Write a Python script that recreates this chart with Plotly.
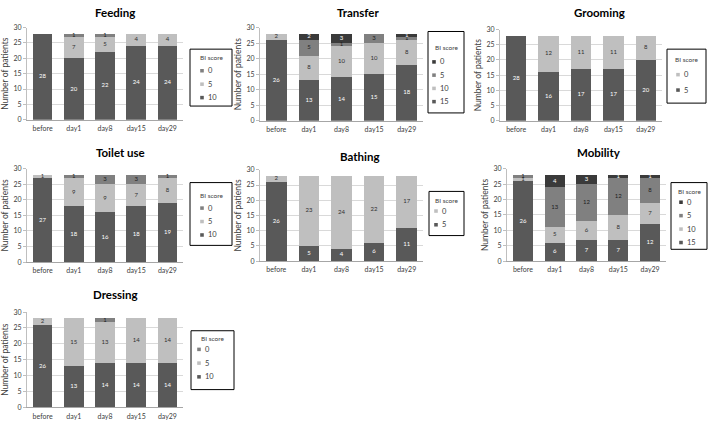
import plotly.graph_objects as go
import numpy as np

days = ["before", "day1", "day8", "day15", "day29"]

feeding_10 = [28, 20, 22, 24, 24]
feeding_5 = [0, 7, 5, 4, 4]
feeding_0 = [0, 1, 1, 0, 0]

transfer_15 = [26, 13, 14, 15, 18]
transfer_10 = [2, 8, 10, 10, 8]
transfer_5 = [0, 5, 1, 3, 1]
transfer_0 = [0, 2, 3, 0, 1]

grooming_5 = [28, 16, 17, 17, 20]
grooming_0 = [0, 12, 11, 11, 8]

toilet_10 = [27, 18, 16, 18, 19]
toilet_5 = [1, 9, 9, 7, 8]
toilet_0 = [0, 1, 3, 3, 1]

bathing_5 = [26, 5, 4, 6, 11]
bathing_0 = [2, 23, 24, 22, 17]

mobility_15 = [26, 6, 7, 7, 12]
mobility_10 = [1, 5, 6, 8, 7]
mobility_5 = [1, 13, 12, 12, 8]
mobility_0 = [0, 4, 3, 1, 1]

dressing_10 = [26, 13, 14, 14, 14]
dressing_5 = [2, 15, 13, 14, 14]
dressing_0 = [0, 0, 1, 0, 0]

DARK = "#595959"
LIGHT = "#bfbfbf"
MID = "#808080"
DARKEST = "#3a3a3a"
TXT_ON = {DARK: "white", LIGHT: "#303030", MID: "#202020", DARKEST: "white"}

W, H = 708, 424

def px_x(a, b):
    return [a / W, b / W]

def px_y(top, bottom):
    return [1 - bottom / H, 1 - top / H]

def fx(p):
    return p / W

def fy(p):
    return 1 - p / H

# legend geometry: (box x0, x1, y0, y1, title y, first item y, item spacing, square offset from x0)
panels = [
    ("Feeding", [(feeding_10, "10", DARK), (feeding_5, "5", LIGHT), (feeding_0, "0", MID)],
     (27, 183), (23, 117), (115, 8), (190, 232, 45, 103, 53, 67, 13.7, 12)),
    ("Transfer", [(transfer_15, "15", DARK), (transfer_10, "10", LIGHT), (transfer_5, "5", MID), (transfer_0, "0", DARKEST)],
     (260, 423), (23, 118), (358, 8), (428, 464, 27, 110, 43, 58, 13.5, 6)),
    ("Grooming", [(grooming_5, "5", DARK), (grooming_0, "0", LIGHT)],
     (500, 662), (25, 118), (599, 8), (667, 706, 45, 100, 56, 71, 15.7, 11)),
    ("Toilet use", [(toilet_10, "10", DARK), (toilet_5, "5", LIGHT), (toilet_0, "0", MID)],
     (27, 183), (167, 262), (120, 150), (190, 232, 181, 245, 194, 207, 13.7, 12)),
    ("Bathing", [(bathing_5, "5", DARK), (bathing_0, "0", LIGHT)],
     (260, 423), (168, 261), (359, 154), (429, 464, 190, 235, 199, 210, 14, 7)),
    ("Mobility", [(mobility_15, "15", DARK), (mobility_10, "10", LIGHT), (mobility_5, "5", MID), (mobility_0, "0", DARKEST)],
     (507, 666), (167, 261), (599, 150), (671, 707, 181, 249, 190, 201, 13.7, 10)),
    ("Dressing", [(dressing_10, "10", DARK), (dressing_5, "5", LIGHT), (dressing_0, "0", MID)],
     (27, 183), (313, 410), (116, 295), (191, 234, 332, 392, 340, 351, 14, 8)),
]

FONT = "Lato"
fig = go.Figure()
layout = dict(
    width=W, height=H, margin=dict(l=0, r=0, t=0, b=0),
    paper_bgcolor="white", plot_bgcolor="white",
    barmode="stack", bargap=0.37, showlegend=False,
    font=dict(family=FONT, color="#404040"),
    annotations=[], shapes=[],
)

for i, (title, series, xr, yr, tpos, lg) in enumerate(panels):
    n = i + 1
    xa = "x" if n == 1 else f"x{n}"
    ya = "y" if n == 1 else f"y{n}"
    base = np.zeros(len(days))
    for vals, name, col in series:
        v = np.array(vals, dtype=float)
        fig.add_trace(go.Bar(
            x=days, y=vals, name=name, marker=dict(color=col, line=dict(width=0)),
            xaxis=xa, yaxis=ya, hoverinfo="skip",
        ))
        mask = v > 0
        fig.add_trace(go.Scatter(
            x=[d for d, m in zip(days, mask) if m],
            y=list((base + v / 2)[mask]),
            text=[str(int(t)) for t in v[mask]],
            mode="text", textfont=dict(size=6, color=TXT_ON[col], family=FONT),
            xaxis=xa, yaxis=ya, hoverinfo="skip",
        ))
        base = base + v
    layout["xaxis" if n == 1 else f"xaxis{n}"] = dict(
        domain=px_x(*xr), anchor=ya, type="category",
        showline=True, linecolor="#a6a6a6", linewidth=1,
        ticks="", tickfont=dict(size=7, color="#404040"), showgrid=False,
        ticklabelstandoff=2, fixedrange=True,
    )
    layout["yaxis" if n == 1 else f"yaxis{n}"] = dict(
        domain=px_y(*yr), anchor=xa, range=[0, 30], dtick=5,
        showline=True, linecolor="#bfbfbf", linewidth=1,
        ticks="outside", ticklen=3, tickcolor="#bfbfbf",
        showgrid=True, gridcolor="#d9d9d9", gridwidth=1,
        tickfont=dict(size=7, color="#404040"),
        title=dict(text="Number of patients", font=dict(size=8.5, color="#404040"), standoff=3),
        zeroline=False, fixedrange=True,
    )
    layout["annotations"].append(dict(
        text=f"<b>{title}</b>", x=fx(tpos[0]), y=fy(tpos[1]),
        xref="paper", yref="paper", xanchor="center", yanchor="middle",
        showarrow=False, font=dict(size=11.5, color="#000000", family=FONT),
    ))
    # legend box (drawn from the series names and colours)
    bx0, bx1, by0, by1, ty, iy, sp, sq = lg
    layout["shapes"].append(dict(
        type="rect", xref="paper", yref="paper",
        x0=fx(bx0), x1=fx(bx1), y0=fy(by1), y1=fy(by0),
        line=dict(color="#000000", width=1), fillcolor="white", layer="above",
    ))
    layout["annotations"].append(dict(
        text="BI score", x=fx((bx0 + bx1) / 2), y=fy(ty),
        xref="paper", yref="paper", xanchor="center", yanchor="middle",
        showarrow=False, font=dict(size=6.5, color="#404040", family=FONT),
    ))
    for k, (vals, name, col) in enumerate(reversed(series)):
        cy = iy + k * sp
        cx = bx0 + sq
        layout["shapes"].append(dict(
            type="rect", xref="paper", yref="paper",
            x0=fx(cx - 1.8), x1=fx(cx + 1.8), y0=fy(cy + 1.8), y1=fy(cy - 1.8),
            line=dict(width=0), fillcolor=col, layer="above",
        ))
        layout["annotations"].append(dict(
            text=name, x=fx(cx + 3.5), y=fy(cy),
            xref="paper", yref="paper", xanchor="left", yanchor="middle",
            showarrow=False, font=dict(size=7.5, color="#404040", family=FONT),
        ))

fig.update_layout(**layout)
fig.write_html(
    "out.html",
    config={"displayModeBar": False, "staticPlot": True},
    post_script="document.body.style.margin='0';document.body.style.overflow='hidden';",
)
